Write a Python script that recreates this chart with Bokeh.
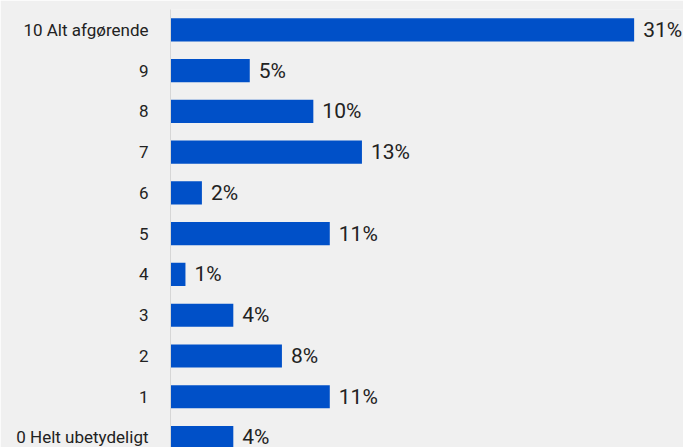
from bokeh.plotting import figure
from bokeh.models import Range1d, FixedTicker, ColumnDataSource
from bokeh.core.properties import value
from bokeh.embed import file_html
from bokeh.resources import INLINE

# Data (top to bottom: 10 .. 0)
categories = ["10 Alt afgørende", "9", "8", "7", "6", "5", "4", "3", "2", "1", "0 Helt ubetydeligt"]
scores = [10, 9, 8, 7, 6, 5, 4, 3, 2, 1, 0]
shares = [31.0, 5.3, 9.55, 12.8, 2.1, 10.65, 1.0, 4.2, 7.45, 10.65, 4.2]
share_labels = ["31%", "5%", "10%", "13%", "2%", "11%", "1%", "4%", "8%", "11%", "4%"]

BG = "#f0f0f0"
BAR = "#0050c8"
FONT = "Roboto"

src = ColumnDataSource(dict(y=scores, x=shares, lab=share_labels))

p = figure(width=683, height=447, output_backend="svg", toolbar_location=None,
           x_range=Range1d(0, 34.3), y_range=Range1d(-0.248, 10.5),
           x_axis_location=None, min_border_left=170, min_border_right=0,
           min_border_top=9, min_border_bottom=0)
p.background_fill_color = BG
p.border_fill_color = BG
p.outline_line_color = None
p.grid.visible = False

p.hbar(y="y", right="x", left=0, height=0.565, source=src,
       fill_color=BAR, line_color=None)

p.text(x="x", y="y", text="lab", source=src, x_offset=9,
       text_baseline="middle", text_align="left",
       text_font=value(FONT), text_font_size="21px", text_color="#222222")

ax = p.yaxis[0]
ax.ticker = FixedTicker(ticks=scores)
ax.major_label_overrides = {s: c for s, c in zip(scores, categories)}
ax.major_tick_line_color = None
ax.minor_tick_line_color = None
ax.axis_line_color = "#d6d6d6"
ax.axis_line_width = 1
ax.major_label_standoff = 16
ax.major_label_text_font = FONT
ax.major_label_text_font_size = "17px"
ax.major_label_text_color = "#222222"

open("out.html", "w").write(file_html(p, INLINE))
